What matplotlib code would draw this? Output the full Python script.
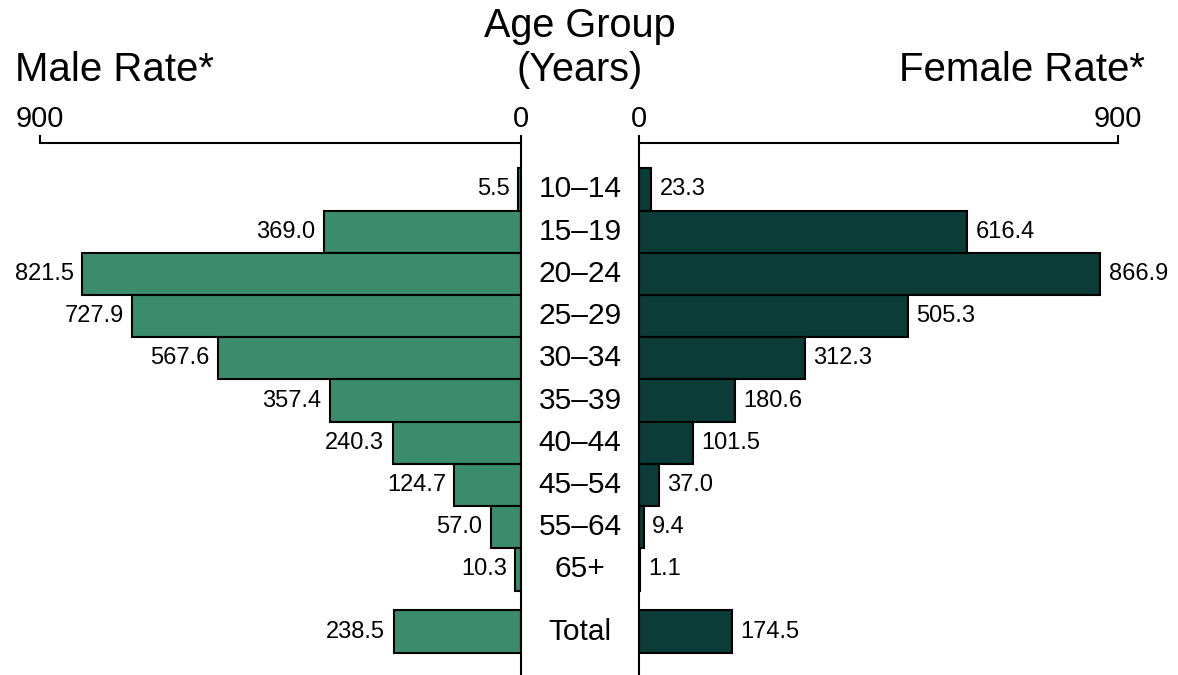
import matplotlib.pyplot as plt
import numpy as np

plt.rcParams['font.family'] = ['Liberation Sans', 'DejaVu Sans']

age_groups = ["10\u201314", "15\u201319", "20\u201324", "25\u201329", "30\u201334",
              "35\u201339", "40\u201344", "45\u201354", "55\u201364", "65+", "Total"]
male_rate = [5.5, 369.0, 821.5, 727.9, 567.6, 357.4, 240.3, 124.7, 57.0, 10.3, 238.5]
female_rate = [23.3, 616.4, 866.9, 505.3, 312.3, 180.6, 101.5, 37.0, 9.4, 1.1, 174.5]

male_color = "#3b8c6d"
female_color = "#0b3c37"

# row positions, Total sits a bit lower than the rest
ypos = np.arange(len(age_groups), dtype=float)
ypos[-1] = 10.47

fig = plt.figure(figsize=(11.78, 6.75), dpi=100)
ax_l = fig.add_axes([40 / 1178, 0, 481 / 1178, 1 - 143 / 675])
ax_r = fig.add_axes([639 / 1178, 0, 479 / 1178, 1 - 143 / 675])

ax_l.barh(ypos, male_rate, height=1.0, color=male_color, edgecolor="black", linewidth=1.5)
ax_r.barh(ypos, female_rate, height=1.0, color=female_color, edgecolor="black", linewidth=1.5)

for ax in (ax_l, ax_r):
    ax.set_xlim(0, 900)
    ax.set_ylim(11.5, -1.1)
    ax.set_yticks([])
    ax.xaxis.tick_top()
    ax.set_xticks([0, 900])
    ax.tick_params(axis="x", direction="out", length=6, width=1.5, labelsize=21, pad=1)
    ax.spines["bottom"].set_visible(False)
    ax.spines["top"].set_linewidth(1.5)
    ax.patch.set_alpha(0)

ax_l.invert_xaxis()
ax_l.spines["left"].set_visible(False)
ax_l.spines["right"].set_linewidth(1.5)
ax_r.spines["right"].set_visible(False)
ax_r.spines["left"].set_linewidth(1.5)

for y, v in zip(ypos, male_rate):
    ax_l.annotate(f"{v:.1f}", (v, y), xytext=(-6, 0), textcoords="offset points",
                  ha="right", va="center", fontsize=17)
for y, v in zip(ypos, female_rate):
    ax_r.annotate(f"{v:.1f}", (v, y), xytext=(6, 0), textcoords="offset points",
                  ha="left", va="center", fontsize=17)

# age group labels in the middle gap
mid_x = 580 / 1178
for y, lab in zip(ypos, age_groups):
    ax_l.annotate(lab, (0, y), xytext=(mid_x, 0), textcoords=("figure fraction", "offset points"),
                  xycoords="data", ha="center", va="center", fontsize=21.5)

fig.text(mid_x, 1 - 26 / 675, "Age Group", ha="center", va="center", fontsize=28.5)
fig.text(mid_x, 1 - 70 / 675, "(Years)", ha="center", va="center", fontsize=28.5)
fig.text(15 / 1178, 1 - 70 / 675, "Male Rate*", ha="left", va="center", fontsize=29)
fig.text(1145 / 1178, 1 - 70 / 675, "Female Rate*", ha="right", va="center", fontsize=29)

fig.savefig("out.png", dpi=100)
